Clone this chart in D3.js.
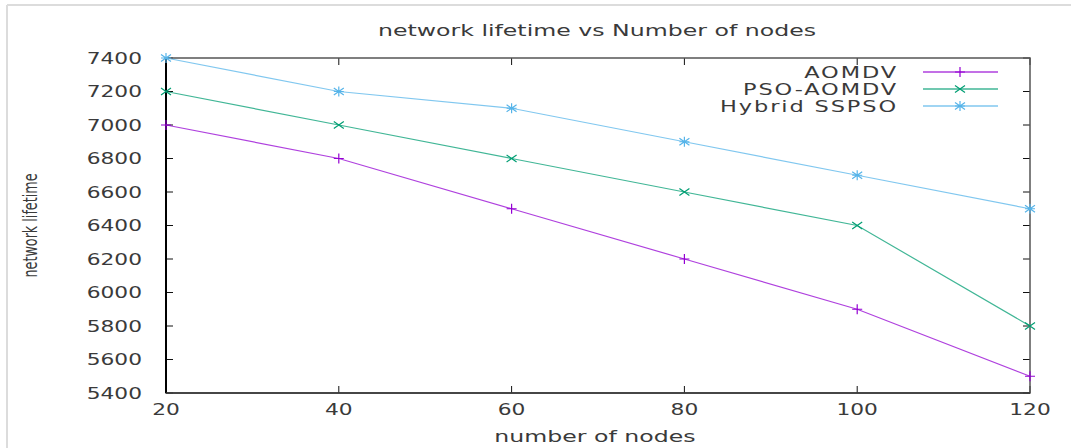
<!DOCTYPE html>
<html>
<head>
<meta charset="utf-8">
<script src="https://cdn.jsdelivr.net/npm/d3@7"></script>
<style>
  html, body { margin: 0; padding: 0; background: #fff; }
  svg { display: block; }
</style>
</head>
<body>
<div id="chart"></div>
<script>
const nodes = [20, 40, 60, 80, 100, 120];
const aomdv = [7000, 6800, 6500, 6200, 5900, 5500];
const psoAomdv = [7200, 7000, 6800, 6600, 6400, 5800];
const hybridSspso = [7400, 7200, 7100, 6900, 6700, 6500];
const seriesNames = ['AOMDV', 'PSO-AOMDV', 'Hybrid SSPSO'];
const yTicks = [5400, 5600, 5800, 6000, 6200, 6400, 6600, 6800, 7000, 7200, 7400];

const W = 1071, H = 448, mL = 166, mR = 41, mT = 58, mB = 55;
const FONT = '"DejaVu Sans", sans-serif';
const SX = 1.45; // the source image is stretched horizontally
const colors = ['#9400d3', '#009e73', '#56b4e9'];
const shapes = ['plus', 'cross', 'star'];

const svg = d3.select('#chart').append('svg').attr('width', W).attr('height', H);

// light frame of the screenshot
svg.append('line').attr('x1', 7).attr('x2', W).attr('y1', 5).attr('y2', 5).attr('stroke', '#dcdcdc').attr('stroke-width', 2);
svg.append('line').attr('x1', 7).attr('x2', 7).attr('y1', 5).attr('y2', H).attr('stroke', '#dcdcdc').attr('stroke-width', 2);

const x = d3.scaleLinear().domain([20, 120]).range([mL, W - mR]);
const y = d3.scaleLinear().domain([5400, 7400]).range([H - mB, mT]);

// stretched text helper
function label(px, py, str, anchor, size, spacing) {
  return svg.append('text')
    .attr('transform', `translate(${px},${py}) scale(${SX},1)`)
    .attr('text-anchor', anchor).attr('font-family', FONT).attr('font-size', size)
    .attr('letter-spacing', spacing || 0)
    .attr('fill', '#3a3a3a').text(str);
}

// ticks (inside, mirrored)
const tk = 7;
yTicks.forEach(t => {
  svg.append('line').attr('x1', mL).attr('x2', mL + tk).attr('y1', y(t)).attr('y2', y(t)).attr('stroke', '#111');
  svg.append('line').attr('x1', W - mR).attr('x2', W - mR - tk).attr('y1', y(t)).attr('y2', y(t)).attr('stroke', '#111');
  label(mL - 24, y(t) + 5.5, String(t), 'end', 15);
});
nodes.forEach(n => {
  svg.append('line').attr('x1', x(n)).attr('x2', x(n)).attr('y1', H - mB).attr('y2', H - mB - tk).attr('stroke', '#111');
  svg.append('line').attr('x1', x(n)).attr('x2', x(n)).attr('y1', mT).attr('y2', mT + tk).attr('stroke', '#111');
  label(x(n), H - mB + 22, String(n), 'middle', 15);
});

// border
svg.append('rect').attr('x', mL).attr('y', mT).attr('width', W - mR - mL).attr('height', H - mB - mT)
  .attr('fill', 'none').attr('stroke', '#555').attr('stroke-width', 1.5);
svg.append('line').attr('x1', mL).attr('x2', mL).attr('y1', mT).attr('y2', H - mB).attr('stroke', '#000').attr('stroke-width', 2);
svg.append('line').attr('x1', mL).attr('x2', W - mR).attr('y1', H - mB).attr('y2', H - mB).attr('stroke', '#333').attr('stroke-width', 1.5);

// titles
label(597, 36, 'network lifetime vs Number of nodes', 'middle', 16.3);
label(595, 442, 'number of nodes', 'middle', 16.3);
svg.append('text').attr('transform', `translate(37,${(mT + H - mB) / 2}) rotate(-90)`)
  .attr('text-anchor', 'middle').attr('font-family', FONT).attr('font-size', 20)
  .attr('textLength', 104).attr('lengthAdjust', 'spacingAndGlyphs').attr('fill', '#3a3a3a').text('network lifetime');

// markers
function marker(g, cx, cy, shape, color) {
  const r = 5;
  const p = d3.path();
  if (shape === 'plus' || shape === 'star') {
    p.moveTo(cx - r, cy); p.lineTo(cx + r, cy);
    p.moveTo(cx, cy - r); p.lineTo(cx, cy + r);
  }
  if (shape === 'cross' || shape === 'star') {
    p.moveTo(cx - r, cy - r * 0.7); p.lineTo(cx + r, cy + r * 0.7);
    p.moveTo(cx - r, cy + r * 0.7); p.lineTo(cx + r, cy - r * 0.7);
  }
  g.append('path').attr('d', p.toString()).attr('stroke', color).attr('stroke-width', 1.2).attr('fill', 'none');
}

const allSeries = [aomdv, psoAomdv, hybridSspso];
const line = d3.line().x((d, i) => x(nodes[i])).y(d => y(d));
allSeries.forEach((vals, k) => {
  const g = svg.append('g');
  g.append('path').datum(vals).attr('d', line).attr('fill', 'none')
    .attr('stroke', colors[k]).attr('stroke-width', 1.2).attr('stroke-opacity', 0.75);
  vals.forEach((v, i) => marker(g, x(nodes[i]), y(v), shapes[k], colors[k]));
});

// legend
const legY = [72, 89, 106];
seriesNames.forEach((name, k) => {
  label(898, legY[k] + 5.5, name, 'end', 15.5, 1.3);
  svg.append('line').attr('x1', 923).attr('x2', 998).attr('y1', legY[k]).attr('y2', legY[k])
    .attr('stroke', colors[k]).attr('stroke-width', 1.3).attr('stroke-opacity', 0.75);
  marker(svg, 960, legY[k], shapes[k], colors[k]);
});
</script>
</body>
</html>
